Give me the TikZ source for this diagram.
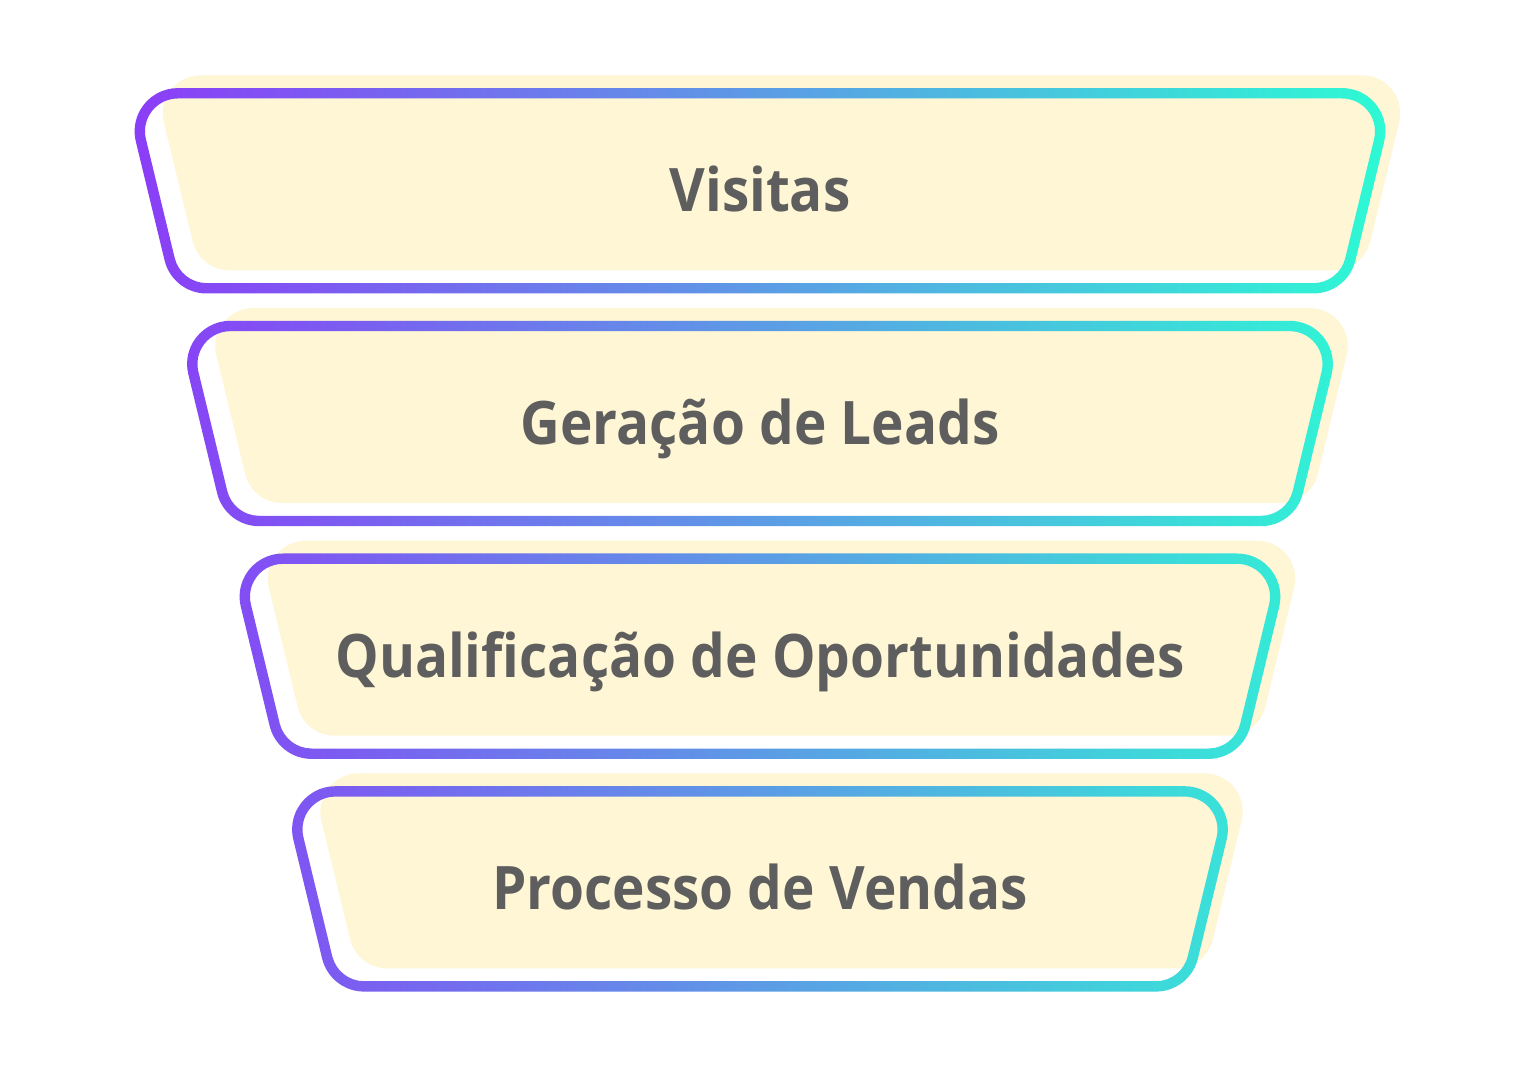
\documentclass[tikz,border=0pt]{standalone}
\usepackage{fontspec}
\newfontfamily\lab{Open Sans}[Ligatures=NoCommon]
\definecolor{fillc}{HTML}{FEF6D4}
\definecolor{gradL}{HTML}{8B3DF7}
\definecolor{gradR}{HTML}{2DFAD4}
\definecolor{textc}{HTML}{5E5E5E}
\pgfmathsetmacro\kk{0.242}
\pgfmathsetmacro\ss{sqrt(1+\kk*\kk)}
\pgfmathsetmacro\aa{atan(\kk)}
\def\RR{38}
\newcommand\setcenters[4]{%
 \pgfmathsetmacro\xTL{(#1)-(#4)+\kk*\RR+\RR*\ss}%
 \pgfmathsetmacro\xTR{(#1)+(#4)-\kk*\RR-\RR*\ss}%
 \pgfmathsetmacro\xBL{(#1)-(#4)+\kk*((#3)-\RR-(#2))+\RR*\ss}%
 \pgfmathsetmacro\xBR{(#1)+(#4)-\kk*((#3)-\RR-(#2))-\RR*\ss}%
 \pgfmathsetmacro\yTc{(#2)+\RR}%
 \pgfmathsetmacro\yBc{(#3)-\RR}%
}
\newcommand\rpath[1]{(\xTR,{-\yTc+(#1)}) -- (\xTL,{-\yTc+(#1)}) arc[start angle=90,end angle={180+\aa},radius={#1}] -- ({\xBL+(#1)*cos(180+\aa)},{-\yBc+(#1)*sin(180+\aa)}) arc[start angle={180+\aa},end angle=270,radius={#1}] -- (\xBR,{-\yBc-(#1)}) arc[start angle=270,end angle={360-\aa},radius={#1}] -- ({\xTR+(#1)*cos(-\aa)},{-\yTc+(#1)*sin(-\aa)}) arc[start angle={-\aa},end angle=90,radius={#1}] -- cycle}
\newcommand\layer[4]{%
 \pgfmathsetmacro\Bv{(#2)+195}%
 \setcenters{781.5}{(#2)-18}{\Bv-18}{(#3)-1.5}%
 \fill[fillc] \rpath{\RR};
 \setcenters{760}{#2}{\Bv}{#3}%
 \begin{scope}[even odd rule]
  \clip \rpath{\RR+5.2} \rpath{\RR-5.2};
  \shade[left color=gradL,right color=gradR] (133,{-(#2)+10}) rectangle (1388,{-\Bv-10});
 \end{scope}
 \node[lbl,anchor=base] (#1) at (760,{-((#2)+\Bv)/2-21}) {#4};
}
\begin{document}
\begin{tikzpicture}[x=0.5pt,y=0.5pt,
  lbl/.style={font=\lab\bfseries\fontsize{30}{36}\selectfont,text=textc,inner sep=0pt,xscale=0.915}]
\fill[white] (0,0) rectangle (1536,-1068);
\useasboundingbox (0,0) rectangle (1536,-1068);
\layer{l1}{93.3}{630.5}{Visitas}
\layer{l2}{326}{578}{Geração de Leads}
\layer{l3}{558.7}{525.5}{Qualificação de Oportunidades}
\layer{l4}{791.4}{473}{Processo de Vendas}
\end{tikzpicture}
\end{document}
